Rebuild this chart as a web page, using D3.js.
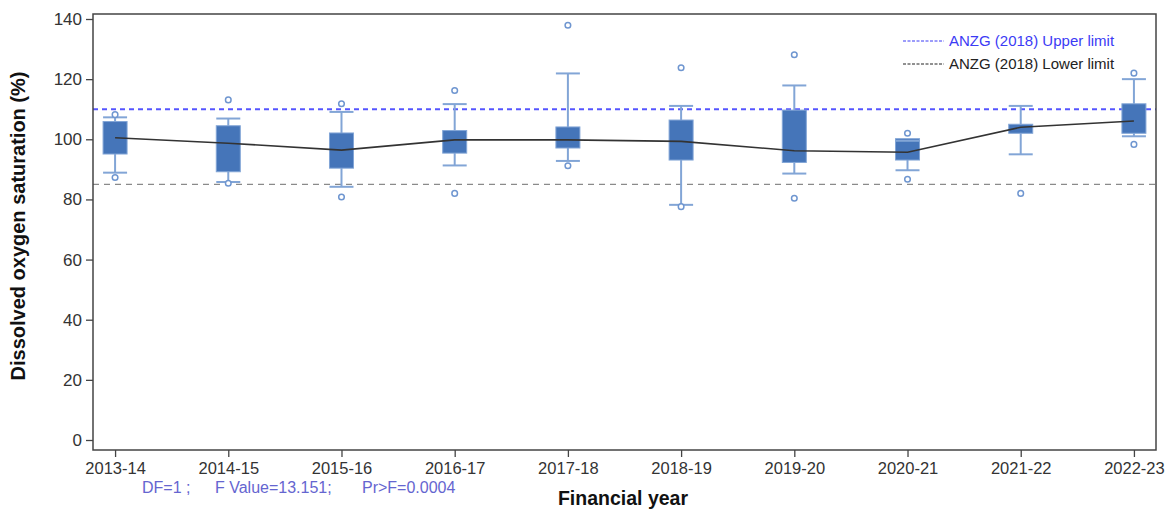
<!DOCTYPE html>
<html><head><meta charset="utf-8">
<script src="https://cdn.jsdelivr.net/npm/d3@7"></script>
<style>
html,body{margin:0;padding:0;background:#fff;}
svg{display:block;font-family:"Liberation Sans",Arial,sans-serif;}
</style></head>
<body><svg id="c" width="1172" height="512"></svg>
<script>
const years = ["2013-14","2014-15","2015-16","2016-17","2017-18","2018-19","2019-20","2020-21","2021-22","2022-23"];
const whiskerLow  = [88.9, 85.8, 84.2, 91.3, 92.8, 78.2, 88.6, 89.7, 95.0, 101.0];
const q1          = [95.1, 89.2, 90.4, 95.4, 97.1, 93.1, 92.3, 93.1, 102.0, 102.0];
const q3          = [105.9,104.5,102.1,102.9,104.1,106.4,109.7,100.2,105.0, 111.8];
const whiskerHigh = [107.3,106.9,109.1,111.7,121.9,111.1,117.9, 99.5,111.1, 120.0];
const means       = [100.5, 98.7, 96.4, 99.8, 99.8, 99.3, 96.2, 95.7,104.0, 106.1];
const outliers    = [[108.2,87.3],[113.1,85.4],[111.8,80.8],[116.2,82.0],[137.9,91.2],[123.8,77.6],[128.1,80.4],[102.0,86.7],[82.0],[122.0,98.3]];
const yTicks = [0,20,40,60,80,100,120,140];
const upperLimit = 110, lowerLimit = 85;
const statsParts = ["DF=1 ;", "F Value=13.151;", "Pr>F=0.0004"];

const svg = d3.select("#c");
const L=93, R=1156, T=14, B=450;
const x = d3.scalePoint().domain(years).range([L,R]).padding(0.195);
const y = d3.scaleLinear().domain([0,140]).range([440,19]);

const boxFill="#4575b9", light="#82a5d6";

// reference lines
svg.append("line").attr("x1",L).attr("x2",R).attr("y1",y(upperLimit)).attr("y2",y(upperLimit))
  .attr("stroke","#5555ff").attr("stroke-width",2).attr("stroke-dasharray","5,4");
svg.append("line").attr("x1",L).attr("x2",R).attr("y1",y(lowerLimit)).attr("y2",y(lowerLimit))
  .attr("stroke","#8a8a8a").attr("stroke-width",1.4).attr("stroke-dasharray","6,5");

const bw=24, cw=24;
const g = svg.append("g");
years.forEach((yr,i)=>{
  const cx=x(yr);
  g.append("line").attr("x1",cx).attr("x2",cx).attr("y1",y(q3[i])).attr("y2",y(Math.max(whiskerHigh[i],q3[i]))).attr("stroke",light).attr("stroke-width",2);
  g.append("line").attr("x1",cx).attr("x2",cx).attr("y1",y(q1[i])).attr("y2",y(whiskerLow[i])).attr("stroke",light).attr("stroke-width",2);
  g.append("rect").attr("x",cx-bw/2).attr("width",bw).attr("y",y(q3[i])).attr("height",y(q1[i])-y(q3[i]))
   .attr("fill",boxFill).attr("stroke",light).attr("stroke-width",1);
  [whiskerHigh[i],whiskerLow[i]].forEach(v=>{
    g.append("line").attr("x1",cx-cw/2).attr("x2",cx+cw/2).attr("y1",y(v)).attr("y2",y(v)).attr("stroke",light).attr("stroke-width",2);
  });
  outliers[i].forEach(v=>{
    g.append("circle").attr("cx",cx).attr("cy",y(v)).attr("r",2.8).attr("fill","#fff").attr("stroke","#6f96d0").attr("stroke-width",1.5);
  });
});

// mean line
svg.append("path").datum(means)
  .attr("d",d3.line().x((d,i)=>x(years[i])).y(d=>y(d)))
  .attr("fill","none").attr("stroke","#333").attr("stroke-width",1.6);

// frame
svg.append("rect").attr("x",L).attr("y",T).attr("width",R-L).attr("height",B-T)
  .attr("fill","none").attr("stroke","#444").attr("stroke-width",1.5);

// y axis
const ya = svg.append("g").attr("transform",`translate(${L},0)`)
  .call(d3.axisLeft(y).tickValues(yTicks).tickSize(7).tickPadding(4));
ya.select(".domain").remove();
ya.selectAll("line").attr("stroke","#444").attr("stroke-width",1.3);
ya.selectAll("text").attr("font-size",17).attr("fill","#333").attr("font-family","Liberation Sans, Arial, sans-serif");

// x axis
const xa = svg.append("g").attr("transform",`translate(0,${B})`)
  .call(d3.axisBottom(x).tickSize(7).tickPadding(5));
xa.select(".domain").remove();
xa.selectAll("line").attr("stroke","#444").attr("stroke-width",1.3);
xa.selectAll("text").attr("font-size",16.5).attr("fill","#333").attr("font-family","Liberation Sans, Arial, sans-serif");

// titles
svg.append("text").attr("x",623).attr("y",505).attr("text-anchor","middle")
  .attr("font-size",19.5).attr("font-weight","bold").attr("fill","#111").text("Financial year");
svg.append("text").attr("transform","translate(25,226) rotate(-90)").attr("text-anchor","middle")
  .attr("font-size",20).attr("font-weight","bold").attr("fill","#111").text("Dissolved oxygen saturation (%)");

// stats
const statsX=[142,215,362];
statsParts.forEach((t,i)=>{
  svg.append("text").attr("x",statsX[i]).attr("y",493).attr("font-size",16).attr("fill","#6565d0").text(t);
});

// legend
const leg=[{t:"ANZG (2018) Upper limit",c:"#3b3bf5",lc:"#3b3bf5",y:41},{t:"ANZG (2018) Lower limit",c:"#222",lc:"#222",y:64}];
leg.forEach(d=>{
  svg.append("line").attr("x1",903).attr("x2",944).attr("y1",d.y).attr("y2",d.y).attr("stroke",d.lc).attr("stroke-width",1).attr("stroke-dasharray","3,1.5");
  svg.append("text").attr("x",949).attr("y",d.y+5).attr("font-size",15).attr("fill",d.c).text(d.t);
});
</script></body></html>
